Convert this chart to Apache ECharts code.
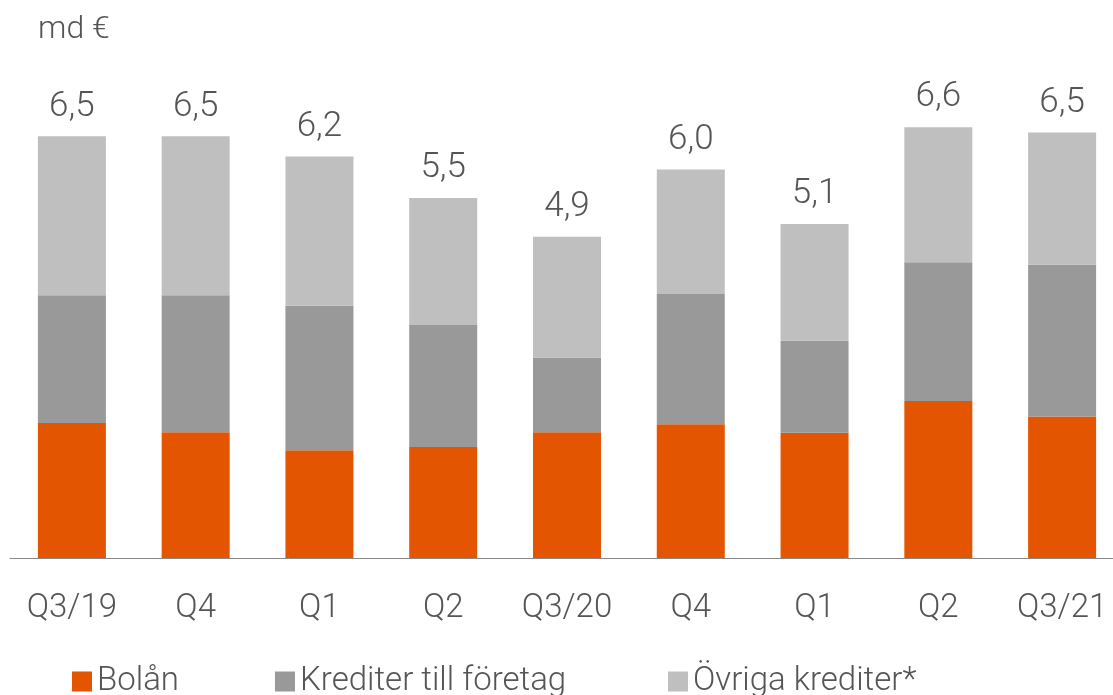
<!DOCTYPE html>
<html>
<head>
<meta charset="utf-8">
<script src="https://cdn.jsdelivr.net/npm/echarts@6/dist/echarts.min.js"></script>
<style>
html,body{margin:0;padding:0;background:#fff;overflow:hidden;}
#chart{width:1124px;height:695px;}
</style>
</head>
<body>
<div id="chart"></div>
<script>
const categories = ['Q3/19','Q4','Q1','Q2','Q3/20','Q4','Q1','Q2','Q3/21'];
const bolan     = [2.08, 1.94, 1.66, 1.71, 1.94, 2.06, 1.93, 2.42, 2.18];
const foretag   = [1.97, 2.11, 2.23, 1.88, 1.15, 2.01, 1.42, 2.14, 2.34];
const ovriga    = [2.45, 2.45, 2.30, 1.96, 1.86, 1.92, 1.80, 2.08, 2.04];
const totalLabels = ['6,5','6,5','6,2','5,5','4,9','6,0','5,1','6,6','6,5'];
const seriesNames = ['Bolån','Krediter till företag','Övriga krediter*'];
const unitLabel = 'md €';

const FONT = 'Roboto';
const TXT = '#555555';
const colors = ['#E35500','#999999','#BFBFBF'];

const chart = echarts.init(document.getElementById('chart'), null, {renderer:'canvas'});

function legendFor(i, left){
  return {
    data:[seriesNames[i]], left:left, top:660, orient:'horizontal',
    icon:'rect', itemWidth:20, itemHeight:20, itemGap:0,
    textStyle:{fontFamily:FONT, fontWeight:300, fontSize:33, color:TXT, padding:[0,0,0,0]},
    selectedMode:false
  };
}

const option = {
  animation:false,
  backgroundColor:'#fff',
  graphic:[{
    type:'text', left:38, top:14,
    style:{text:unitLabel, fontFamily:FONT, fontWeight:300, fontSize:32, fill:TXT}
  }],
  legend:[legendFor(0,67), legendFor(1,270), legendFor(2,663)],
  grid:{left:10, right:0, top:39, bottom:695-558, containLabel:false},
  xAxis:{
    type:'category', data:categories,
    axisLine:{show:true, lineStyle:{color:'#888888', width:1}},
    axisTick:{show:false},
    axisLabel:{fontFamily:FONT, fontWeight:300, fontSize:33, color:TXT, margin:34, interval:0}
  },
  yAxis:{
    type:'value', min:0, max:8, show:false,
    splitLine:{show:false}
  },
  series:[
    {name:seriesNames[0], type:'bar', stack:'t', data:bolan, barWidth:68,
     itemStyle:{color:colors[0]}},
    {name:seriesNames[1], type:'bar', stack:'t', data:foretag, barWidth:68,
     itemStyle:{color:colors[1]}},
    {name:seriesNames[2], type:'bar', stack:'t', data:ovriga, barWidth:68,
     itemStyle:{color:colors[2]},
     label:{show:true, position:'top', distance:12,
       formatter:p=>totalLabels[p.dataIndex],
       fontFamily:FONT, fontWeight:300, fontSize:35, color:TXT}}
  ]
};
chart.setOption(option);
</script>
</body>
</html>
